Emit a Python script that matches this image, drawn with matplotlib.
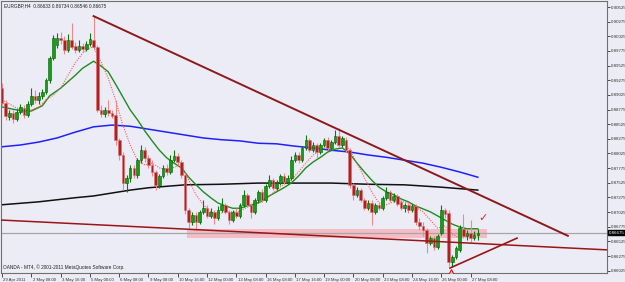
import matplotlib
matplotlib.use('Agg')
import matplotlib.pyplot as plt
import numpy as np
from matplotlib.transforms import ScaledTranslation, blended_transform_factory
from matplotlib.patches import Rectangle

# ---------------- data ----------------
title_text = "EURGBP,H4  0.86633 0.86734 0.86546 0.86675"
footer_text = "OANDA - MT4, \u00a9 2001-2011 MetaQuotes Software Corp."

opens = [0.8914, 0.8889, 0.8865, 0.8872, 0.8861, 0.8873, 0.8880, 0.8868, 0.8887, 0.8901,
         0.8894, 0.8901, 0.8907, 0.8928, 0.8965, 0.8988, 0.9000, 0.8996, 0.8979, 0.8996,
         0.8986, 0.8979, 0.8986, 0.8981, 0.8989, 0.8996, 0.8984, 0.8877, 0.8870, 0.8877,
         0.8872, 0.8868, 0.8826, 0.8800, 0.8752, 0.8761, 0.8778, 0.8766, 0.8791, 0.8808,
         0.8795, 0.8783, 0.8771, 0.8749, 0.8764, 0.8778, 0.8771, 0.8791, 0.8798, 0.8788,
         0.8766, 0.8706, 0.8686, 0.8697, 0.8686, 0.8703, 0.8709, 0.8696, 0.8703, 0.8692,
         0.8706, 0.8715, 0.8703, 0.8689, 0.8703, 0.8696, 0.8715, 0.8732, 0.8715, 0.8703,
         0.8723, 0.8737, 0.8723, 0.8747, 0.8757, 0.8744, 0.8752, 0.8764, 0.8754, 0.8761,
         0.8791, 0.8800, 0.8791, 0.8812, 0.8826, 0.8808, 0.8817, 0.8805, 0.8817, 0.8826,
         0.8812, 0.8822, 0.8832, 0.8817, 0.8826, 0.8808, 0.8749, 0.8732, 0.8740, 0.8723,
         0.8709, 0.8718, 0.8703, 0.8715, 0.8709, 0.8727, 0.8737, 0.8723, 0.8730, 0.8720,
         0.8709, 0.8715, 0.8706, 0.8713, 0.8686, 0.8679, 0.8672, 0.8650, 0.8658, 0.8643,
         0.8667, 0.8706, 0.8701, 0.8617, 0.8626, 0.8638, 0.8674, 0.8662, 0.8667, 0.8658,
         0.86633]
highs = [0.8923, 0.8894, 0.8877, 0.8877, 0.8878, 0.8887, 0.8885, 0.8892, 0.8914, 0.8911,
         0.8907, 0.8913, 0.8931, 0.8969, 0.9005, 0.9008, 0.9010, 0.9003, 0.9006, 0.9025,
         0.8993, 0.8996, 0.8991, 0.8995, 0.9008, 0.9037, 0.8988, 0.8885, 0.8882, 0.8894,
         0.8877, 0.8894, 0.8829, 0.8805, 0.8766, 0.8783, 0.8783, 0.8795, 0.8817, 0.8814,
         0.8800, 0.8791, 0.8774, 0.8767, 0.8783, 0.8785, 0.8800, 0.8808, 0.8803, 0.8791,
         0.8769, 0.8709, 0.8703, 0.8703, 0.8706, 0.8723, 0.8715, 0.8709, 0.8706, 0.8713,
         0.8727, 0.8718, 0.8706, 0.8706, 0.8709, 0.8718, 0.8740, 0.8735, 0.8718, 0.8727,
         0.8740, 0.8742, 0.8750, 0.8766, 0.8761, 0.8757, 0.8767, 0.8769, 0.8766, 0.8798,
         0.8805, 0.8805, 0.8815, 0.8834, 0.8829, 0.8822, 0.8820, 0.8820, 0.8829, 0.8831,
         0.8826, 0.8843, 0.8846, 0.8832, 0.8831, 0.8812, 0.8752, 0.8745, 0.8744, 0.8727,
         0.8723, 0.8723, 0.8718, 0.8720, 0.8730, 0.8745, 0.8740, 0.8735, 0.8733, 0.8723,
         0.8718, 0.8718, 0.8716, 0.8716, 0.8692, 0.8686, 0.8675, 0.8662, 0.8662, 0.8665,
         0.8715, 0.8709, 0.8706, 0.8629, 0.8645, 0.8680, 0.8699, 0.8672, 0.8689, 0.8670,
         0.86734]
lows = [0.8885, 0.8860, 0.8860, 0.8855, 0.8858, 0.8870, 0.8863, 0.8865, 0.8884, 0.8889,
        0.8887, 0.8896, 0.8904, 0.8923, 0.8962, 0.8983, 0.8989, 0.8972, 0.8976, 0.8981,
        0.8974, 0.8976, 0.8976, 0.8977, 0.8986, 0.8979, 0.8873, 0.8865, 0.8865, 0.8866,
        0.8863, 0.8817, 0.8791, 0.8740, 0.8737, 0.8754, 0.8761, 0.8761, 0.8786, 0.8788,
        0.8778, 0.8764, 0.8740, 0.8744, 0.8761, 0.8766, 0.8767, 0.8788, 0.8783, 0.8761,
        0.8699, 0.8675, 0.8680, 0.8672, 0.8682, 0.8699, 0.8692, 0.8692, 0.8682, 0.8689,
        0.8703, 0.8699, 0.8682, 0.8686, 0.8692, 0.8692, 0.8711, 0.8711, 0.8692, 0.8699,
        0.8718, 0.8720, 0.8720, 0.8744, 0.8740, 0.8740, 0.8749, 0.8750, 0.8750, 0.8757,
        0.8788, 0.8786, 0.8788, 0.8808, 0.8805, 0.8805, 0.8795, 0.8802, 0.8814, 0.8808,
        0.8808, 0.8819, 0.8814, 0.8814, 0.8805, 0.8744, 0.8723, 0.8728, 0.8720, 0.8706,
        0.8706, 0.8680, 0.8699, 0.8706, 0.8706, 0.8723, 0.8720, 0.8720, 0.8713, 0.8706,
        0.8703, 0.8701, 0.8703, 0.8680, 0.8672, 0.8662, 0.8633, 0.8646, 0.8638, 0.8639,
        0.8663, 0.8692, 0.8610, 0.8609, 0.8622, 0.8634, 0.8658, 0.8655, 0.8650, 0.8655,
        0.86546]
closes = [0.8889, 0.8866, 0.8872, 0.8861, 0.8873, 0.8882, 0.8868, 0.8887, 0.8901, 0.8894,
          0.8901, 0.8907, 0.8928, 0.8965, 0.9000, 0.9000, 0.8996, 0.8979, 0.8996, 0.8984,
          0.8979, 0.8986, 0.8981, 0.8989, 0.8998, 0.8984, 0.8877, 0.8870, 0.8877, 0.8872,
          0.8866, 0.8826, 0.8800, 0.8752, 0.8761, 0.8778, 0.8766, 0.8791, 0.8808, 0.8795,
          0.8783, 0.8771, 0.8749, 0.8764, 0.8778, 0.8771, 0.8791, 0.8798, 0.8788, 0.8766,
          0.8706, 0.8686, 0.8697, 0.8686, 0.8703, 0.8709, 0.8696, 0.8703, 0.8692, 0.8706,
          0.8715, 0.8703, 0.8689, 0.8703, 0.8696, 0.8715, 0.8732, 0.8715, 0.8703, 0.8723,
          0.8737, 0.8723, 0.8747, 0.8757, 0.8744, 0.8752, 0.8764, 0.8754, 0.8761, 0.8791,
          0.8800, 0.8791, 0.8812, 0.8826, 0.8808, 0.8817, 0.8805, 0.8817, 0.8826, 0.8812,
          0.8822, 0.8832, 0.8817, 0.8829, 0.8808, 0.8749, 0.8732, 0.8740, 0.8723, 0.8709,
          0.8718, 0.8703, 0.8715, 0.8709, 0.8727, 0.8737, 0.8723, 0.8730, 0.8716, 0.8709,
          0.8715, 0.8706, 0.8713, 0.8686, 0.8679, 0.8672, 0.8650, 0.8658, 0.8643, 0.8662,
          0.8706, 0.8699, 0.8617, 0.8626, 0.8641, 0.8675, 0.8662, 0.8667, 0.8658, 0.8663,
          0.86675]

# moving averages (bar index, price)
ma_blue_x = [0, 5, 10, 15, 20, 25, 30, 35, 40, 45, 50, 55, 60, 65, 70, 75, 80, 85, 90,
             95, 100, 105, 110, 115, 120, 125, 130]
ma_blue_y = [0.8814, 0.8817, 0.8822, 0.8829, 0.8839, 0.8848, 0.8851, 0.8849, 0.8844,
             0.8839, 0.8834, 0.8829, 0.8826, 0.8824, 0.8820, 0.8819, 0.8815, 0.8812,
             0.8808, 0.8805, 0.8800, 0.8796, 0.8791, 0.8786, 0.8779, 0.8771, 0.8762]
ma_black_x = [0, 10, 20, 25, 30, 35, 40, 50, 60, 70, 80, 90, 100, 110, 120, 130]
ma_black_y = [0.8715, 0.8720, 0.8727, 0.8730, 0.8735, 0.8740, 0.8744, 0.8749, 0.8750,
              0.8752, 0.8752, 0.8752, 0.8750, 0.8749, 0.8745, 0.8740]
ma_green_x = [0, 3, 6, 8, 11, 13, 16, 18, 20, 22, 25, 27, 29, 31, 33, 35, 37, 39, 41,
              43, 45, 47, 49, 51, 53, 55, 57, 59, 61, 63, 65, 67, 69, 71, 73, 75, 77,
              79, 81, 83, 85, 87, 89, 91, 93, 95, 97, 99, 101, 103, 105, 107, 109, 111,
              113, 115, 117, 119, 121, 123, 125, 127, 129, 130]
ma_green_y = [0.8882, 0.8878, 0.8875, 0.8875, 0.8884, 0.8901, 0.8914, 0.8925, 0.8936,
              0.8948, 0.8960, 0.8952, 0.8942, 0.8921, 0.8899, 0.8877, 0.8860, 0.8841,
              0.8824, 0.8808, 0.8795, 0.8786, 0.8778, 0.8762, 0.8749, 0.8737, 0.8727,
              0.8718, 0.8713, 0.8709, 0.8709, 0.8713, 0.8716, 0.8721, 0.8730, 0.8737,
              0.8744, 0.8752, 0.8764, 0.8778, 0.8788, 0.8796, 0.8805, 0.8810, 0.8812,
              0.8802, 0.8786, 0.8771, 0.8757, 0.8745, 0.8737, 0.8732, 0.8725, 0.8720,
              0.8713, 0.8708, 0.8703, 0.8696, 0.8689, 0.8682, 0.8677, 0.8674, 0.8674,
              0.8674]
ma_red_x = [0, 4, 8, 10, 12, 14, 16, 18, 20, 22, 24, 25, 27, 29, 31, 33, 35, 37, 39,
            41, 43, 45, 47, 49, 51, 53, 55, 57, 59, 61, 63, 65, 67, 69, 71, 73, 75, 77,
            79, 81, 83, 85, 87, 89, 91, 93, 95, 97, 99, 101, 103, 105, 107, 109, 111,
            113, 115, 117, 119, 121, 123, 125, 127, 129, 130]
ma_red_y = [0.8894, 0.8880, 0.8877, 0.8882, 0.8894, 0.8902, 0.8914, 0.8936, 0.8957,
            0.8974, 0.8983, 0.8984, 0.8959, 0.8931, 0.8894, 0.8851, 0.8817, 0.8791,
            0.8783, 0.8786, 0.8778, 0.8774, 0.8779, 0.8783, 0.8757, 0.8732, 0.8715,
            0.8703, 0.8699, 0.8703, 0.8703, 0.8704, 0.8711, 0.8715, 0.8721, 0.8730,
            0.8740, 0.8750, 0.8757, 0.8771, 0.8786, 0.8800, 0.8808, 0.8815, 0.8820,
            0.8824, 0.8808, 0.8786, 0.8761, 0.8737, 0.8718, 0.8715, 0.8720, 0.8721,
            0.8718, 0.8711, 0.8703, 0.8689, 0.8675, 0.8679, 0.8665, 0.8658, 0.8662,
            0.8665, 0.8665]

# drawn objects
trend_down_x = [25, 154.6]
trend_down_y = [0.9037, 0.8662]
trend_low_x = [-0.6, 165.3]
trend_low_y = [0.8689, 0.8638]
trend_up_x = [122.4, 140.7]
trend_up_y = [0.8607, 0.8658]
zone_x = [50.5, 132.5]
zone_y = [0.8658, 0.8674]
bid_price = 0.86675
check_pos = (131.4, 0.8693)
fractal_pos = (122.6, 0.8601)

ytick_vals = [0.90525, 0.90275, 0.90025, 0.89775, 0.89525, 0.89275, 0.89025, 0.88775,
              0.88525, 0.88275, 0.88025, 0.87775, 0.87525, 0.87275, 0.87025, 0.86775,
              0.86525, 0.86275, 0.86025]
xtick_pos = [0, 8, 16, 24, 32, 40, 48, 56, 64, 72, 80, 88, 96, 104, 112, 120, 128]
xtick_labels = ["29 Apr 2011", "2 May 08:00", "3 May 16:00", "5 May 00:00", "6 May 08:00",
                "9 May 08:00", "10 May 16:00", "12 May 00:00", "13 May 08:00",
                "16 May 08:00", "17 May 16:00", "19 May 00:00", "20 May 08:00",
                "23 May 08:00", "24 May 16:00", "26 May 00:00", "27 May 08:00"]

# ---------------- figure ----------------
plt.rcParams['font.family'] = ['Liberation Sans', 'DejaVu Sans']
W, H = 625, 282
bg = '#ececf6'
fig = plt.figure(figsize=(W / 100, H / 100), dpi=100)
fig.patch.set_facecolor(bg)
ax = fig.add_axes([1 / W, 9 / H, 606 / W, 272 / H])
ax.set_facecolor(bg)
ax.set_xlim(-0.3, 165.3)
ax.set_ylim(0.85985, 0.90628)

# zone
ax.add_patch(Rectangle((zone_x[0], zone_y[0]), zone_x[1] - zone_x[0], zone_y[1] - zone_y[0],
                       facecolor='#f5bcc6', edgecolor='none', zorder=1))
# bid line
ax.axhline(bid_price, color='#a6a6a6', lw=0.9, zorder=1.5)

# moving averages
ax.plot(ma_black_x, ma_black_y, color='#101010', lw=1.1, zorder=2)
ax.plot(ma_blue_x, ma_blue_y, color='#2020ff', lw=1.1, zorder=2)
ax.plot(ma_green_x, ma_green_y, color='#1e8c1e', lw=1.0, zorder=2)
ax.plot(ma_red_x, ma_red_y, color='#ff5a5a', lw=0.8, ls=(0, (1, 1.2)), zorder=2)

# candles
o = np.array(opens); h = np.array(highs); l = np.array(lows); c = np.array(closes)
idx = np.arange(len(o))
up = c >= o
dn = ~up
ax.vlines(idx[up], l[up], h[up], color='#0a7a0a', lw=0.8, zorder=3)
ax.vlines(idx[dn], l[dn], h[dn], color='#f08a8a', lw=0.8, zorder=3)
bb = np.minimum(o, c)
bh = np.maximum(np.abs(c - o), 0.00005)
ax.bar(idx[up], bh[up], bottom=bb[up], width=0.72, color='#12a012', edgecolor='#0a5a0a',
       lw=0.4, zorder=4)
ax.bar(idx[dn], bh[dn], bottom=bb[dn], width=0.72, color='#b02020', edgecolor='#e07070',
       lw=0.4, zorder=4)

# trend lines
ax.plot(trend_down_x, trend_down_y, color='#8b1a1a', lw=1.4, zorder=5)
ax.plot(trend_low_x, trend_low_y, color='#9a1515', lw=1.1, zorder=5)
ax.plot(trend_up_x, trend_up_y, color='#9a1515', lw=1.2, zorder=5)
ax.text(check_pos[0], check_pos[1], '\u2713', color='#e02828', fontsize=8,
        fontweight='bold', ha='center', va='center', zorder=6,
        family=['DejaVu Sans'])
ax.plot([fractal_pos[0]], [fractal_pos[1]], marker='^', ms=5, mfc='#f8b0b0',
        mec='#d02020', mew=0.8, zorder=6)

# axes styling
for s in ax.spines.values():
    s.set_color('#707070')
    s.set_linewidth(0.8)
ax.yaxis.tick_right()
ax.set_yticks(ytick_vals)
ax.set_yticklabels(['%.5f' % v for v in ytick_vals])
ax.tick_params(axis='y', labelsize=3.2, length=2, pad=0.8, colors='#303030', width=0.6)
ax.set_xticks(xtick_pos)
ax.set_xticklabels(xtick_labels)
ax.tick_params(axis='x', labelsize=3.1, length=3, pad=0.5, colors='#303030', width=0.6)
off = ScaledTranslation(1.2 / 100, 0, fig.dpi_scale_trans)
for lab in ax.get_xticklabels():
    lab.set_horizontalalignment('left')
    lab.set_transform(lab.get_transform() + off)

# price box
tr = blended_transform_factory(ax.transAxes, ax.transData)
ax.text(1.003, bid_price, '%.5f' % bid_price, transform=tr, fontsize=3.2, color='white',
        va='center', ha='left', zorder=7, clip_on=False,
        bbox=dict(boxstyle='square,pad=0.15', fc='black', ec='black'))

ax.text(0.005, 0.992, title_text, transform=ax.transAxes, fontsize=3.4, va='top', ha='left',
        color='#202020')
ax.text(0.004, 0.012, footer_text, transform=ax.transAxes, fontsize=3.4, va='bottom',
        ha='left', color='#202020')

fig.savefig('out.png', dpi=100, facecolor=bg)
